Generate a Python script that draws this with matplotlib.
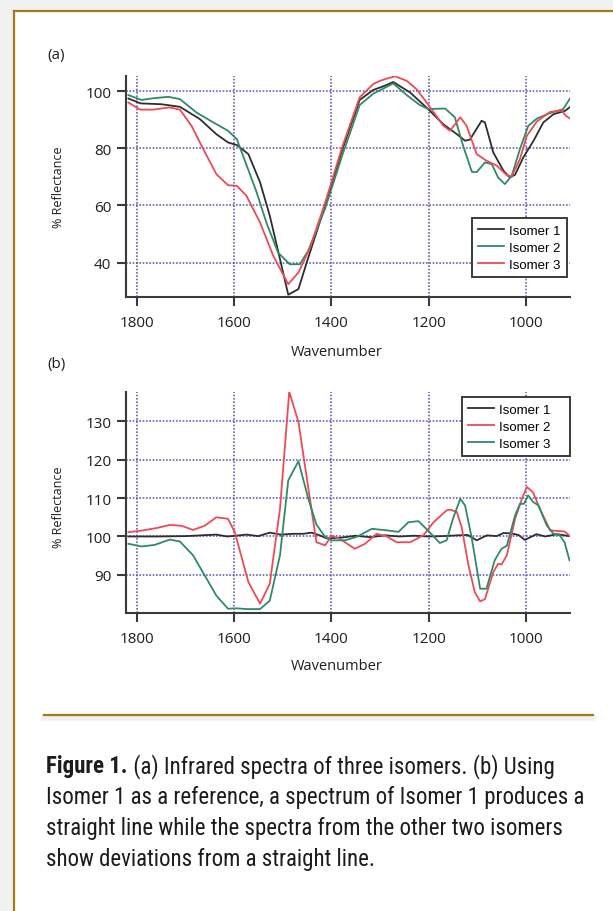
import matplotlib
matplotlib.use("Agg")
import matplotlib.pyplot as plt
import matplotlib.font_manager as fm
from matplotlib.patches import Rectangle
from matplotlib.lines import Line2D

# ---------------- data ----------------
xticks = [1800, 1600, 1400, 1200, 1000]
yticks_a = [40, 60, 80, 100]
yticks_b = [90, 100, 110, 120, 130]
labels_a = ["Isomer 1", "Isomer 2", "Isomer 3"]
labels_b = ["Isomer 1", "Isomer 2", "Isomer 3"]

# panel (a)
wn_a1 = [1818, 1793, 1750, 1712, 1671, 1637, 1613, 1595, 1571, 1547, 1527, 1506, 1489, 1468, 1451,
         1413, 1377, 1342, 1314, 1290, 1273, 1238, 1201, 1170, 1142, 1125, 1115, 1091, 1084, 1067,
         1046, 1033, 1022, 1005, 984, 964, 943, 919, 909]
ref_a1 = [97.5, 95.8, 95.5, 94.6, 90.3, 85.0, 82.1, 81.2, 78.0, 68.1, 56.4, 41.2, 28.7, 30.7, 40.0,
          60.0, 80.0, 97.0, 100.5, 102.0, 103.3, 99.6, 93.8, 88.5, 85.0, 82.7, 83.1, 89.7, 89.1, 78.6,
          72.2, 69.8, 70.8, 76.9, 82.7, 89.1, 92.0, 93.2, 94.5]

wn_a2 = [1818, 1791, 1767, 1736, 1712, 1678, 1643, 1613, 1595, 1582, 1554, 1534, 1510, 1486, 1465,
         1448, 1413, 1377, 1342, 1314, 1293, 1273, 1245, 1218, 1201, 1166, 1146, 1129, 1111, 1101,
         1084, 1070, 1057, 1043, 1029, 1012, 995, 977, 950, 923, 909]
ref_a2 = [98.7, 97.0, 97.6, 98.1, 97.3, 92.6, 89.1, 86.2, 83.3, 77.4, 64.6, 54.0, 43.5, 39.4, 39.4,
          44.1, 59.0, 78.0, 95.2, 99.2, 101.0, 102.8, 98.7, 95.2, 93.8, 94.0, 90.9, 80.9, 71.8, 71.7,
          75.1, 74.5, 69.8, 67.5, 70.4, 79.8, 87.9, 90.5, 92.4, 93.8, 97.5]

wn_a3 = [1818, 1794, 1767, 1733, 1712, 1688, 1664, 1637, 1613, 1595, 1575, 1547, 1520, 1489, 1468,
         1444, 1413, 1377, 1342, 1314, 1300, 1290, 1269, 1245, 1225, 1204, 1170, 1156, 1135, 1122,
         1101, 1081, 1060, 1039, 1029, 1012, 998, 977, 950, 926, 918, 909]
ref_a3 = [96.1, 93.6, 93.6, 94.4, 93.6, 87.9, 79.8, 71.0, 67.1, 66.9, 63.4, 54.0, 42.4, 32.4, 36.5,
          45.3, 61.0, 81.0, 97.9, 102.6, 103.7, 104.3, 105.3, 103.7, 100.8, 96.1, 88.0, 86.2, 90.9, 88.0,
          78.0, 75.7, 74.0, 70.6, 70.2, 76.3, 84.4, 89.5, 92.8, 93.3, 91.5, 90.5]

# panel (b)
wn_b1 = [1818, 1760, 1700, 1637, 1615, 1596, 1575, 1551, 1527, 1505, 1479, 1458, 1441, 1424, 1410,
         1380, 1350, 1320, 1290, 1260, 1230, 1200, 1170, 1140, 1120, 1101, 1080, 1060, 1046, 1030,
         1015, 1002, 978, 960, 936, 910]
ref_b1 = [100.0, 100.0, 100.1, 100.5, 100.0, 100.2, 100.5, 100.1, 101.0, 100.5, 100.7, 100.7, 101.0, 100.3, 99.5,
          99.7, 100.2, 99.8, 100.3, 100.0, 100.2, 100.0, 100.1, 100.3, 100.4, 99.0, 100.3, 100.1, 100.9, 100.8,
          100.4, 99.1, 100.6, 100.0, 100.6, 100.1]

wn_b2 = [1818, 1788, 1760, 1733, 1709, 1685, 1661, 1637, 1613, 1599, 1571, 1547, 1527, 1506, 1487,
         1468, 1449, 1431, 1413, 1400, 1383, 1352, 1331, 1307, 1286, 1266, 1238, 1211, 1190, 1163,
         1156, 1142, 1132, 1118, 1105, 1094, 1084, 1067, 1057, 1050, 1039, 1022, 1008, 998, 985,
         971, 950, 930, 920, 910]
ref_b2 = [101.1, 101.6, 102.2, 103.0, 102.8, 101.7, 102.8, 105.0, 104.6, 101.1, 88.1, 82.5, 87.7, 107.2, 137.7,
          129.8, 113.7, 98.5, 97.7, 100.2, 99.4, 96.8, 98.1, 100.7, 100.0, 98.5, 98.5, 100.3, 103.7, 106.8,
          107.0, 106.4, 102.4, 92.5, 85.5, 83.1, 83.7, 90.7, 92.9, 92.7, 95.1, 104.6, 109.8, 112.9, 111.5,
          107.2, 101.6, 101.4, 101.3, 100.2]

wn_b3 = [1818, 1791, 1764, 1733, 1712, 1685, 1657, 1637, 1613, 1595, 1575, 1547, 1527, 1506, 1489,
         1468, 1448, 1431, 1413, 1400, 1372, 1348, 1317, 1286, 1262, 1242, 1221, 1197, 1177, 1163,
         1150, 1135, 1125, 1111, 1094, 1081, 1064, 1050, 1039, 1022, 1012, 1004, 995, 985, 974,
         957, 943, 930, 920, 910]
ref_b3 = [98.1, 97.4, 97.8, 99.2, 98.7, 95.1, 89.0, 84.6, 81.2, 81.3, 81.1, 81.1, 83.3, 95.1, 114.6,
          119.6, 110.0, 103.1, 99.9, 99.0, 99.0, 99.9, 102.0, 101.6, 101.2, 103.7, 104.0, 101.0, 98.3, 99.0,
          104.6, 109.8, 108.1, 99.4, 86.4, 86.4, 93.8, 96.8, 97.6, 105.5, 108.5, 108.5, 110.7, 109.0, 108.1,
          102.9, 100.7, 100.3, 98.4, 93.8]

caption_bold = "Figure 1."
caption_lines = [
    " (a) Infrared spectra of three isomers. (b) Using",
    "Isomer 1 as a reference, a spectrum of Isomer 1 produces a",
    "straight line while the spectra from the other two isomers",
    "show deviations from a straight line.",
]

# ---------------- style ----------------
BLACK = "#2e2e2e"
GREEN = "#2f8a66"
RED = "#ec4b55"
GRID = "#4848a6"
GOLD = "#a57a1c"
SPINE = "#3a3a3a"

entries = fm.fontManager.ttflist
names = {f.name for f in entries}
AX_FONT = "Open Sans" if "Open Sans" in names else "DejaVu Sans"
LEG_FONT = "Liberation Sans" if "Liberation Sans" in names else "DejaVu Sans"

# caption font: prefer a condensed face
CAP_FONT, CAP_STRETCH = None, "normal"
for cand in ("Liberation Sans Narrow", "Roboto Condensed", "Open Sans Condensed",
             "Noto Sans Condensed", "DejaVu Sans Condensed", "Arial Narrow"):
    if cand in names:
        CAP_FONT = cand
        break
if CAP_FONT is None:
    for f in entries:
        st = f.stretch if isinstance(f.stretch, str) else str(f.stretch)
        if f.name in ("DejaVu Sans", "Noto Sans", "Open Sans", "Roboto") and \
                ("condensed" in st or st in ("500", "400", "300")) and st != "normal":
            CAP_FONT, CAP_STRETCH = f.name, "condensed"
            break
if CAP_FONT is None:
    CAP_FONT = "Roboto" if "Roboto" in names else "DejaVu Sans"

W, H = 613, 912
fig = plt.figure(figsize=(W / 100, H / 100), dpi=100)
fig.patch.set_facecolor("#f1f1f1")


def fx(px):
    return px / W


def fy(py):
    return 1 - py / H


# white panel with gold frame (top & left)
fig.patches.append(Rectangle((fx(14), 0), 1 - fx(14), fy(12), transform=fig.transFigure,
                             facecolor="white", edgecolor="none", zorder=-10))
fig.lines.append(Line2D([fx(14), 1], [fy(12), fy(12)], transform=fig.transFigure, color=GOLD, lw=1.6,
                        zorder=-5))
fig.lines.append(Line2D([fx(14), fx(14)], [0, fy(12)], transform=fig.transFigure, color=GOLD, lw=1.6,
                        zorder=-5))

# separator line with soft shadow
fig.lines.append(Line2D([fx(44), fx(593)], [fy(718.5), fy(718.5)], transform=fig.transFigure,
                        color="#000000", alpha=0.06, lw=4, zorder=-5))
fig.lines.append(Line2D([fx(44), fx(593)], [fy(715.5), fy(715.5)], transform=fig.transFigure,
                        color=GOLD, lw=1.6, zorder=-4))


def style_axes(ax, ylim, yticks):
    ax.set_facecolor("none")
    ax.set_xlim(1823, 909)
    ax.set_ylim(*ylim)
    ax.set_xticks(xticks)
    ax.set_yticks(yticks)
    for s in ("top", "right"):
        ax.spines[s].set_visible(False)
    for s in ("left", "bottom"):
        ax.spines[s].set_color(SPINE)
        ax.spines[s].set_linewidth(1.5)
    ax.tick_params(direction="out", length=6.5, width=1.5, color=SPINE, labelsize=11,
                   labelcolor="#1e1e1e", pad=4)
    ax.tick_params(axis="x", pad=6.5)
    for lab in ax.get_xticklabels() + ax.get_yticklabels():
        lab.set_fontfamily(AX_FONT)
    ax.grid(True, color=GRID, linestyle=(0, (1.0, 1.0)), linewidth=1.2, alpha=0.85)
    ax.set_axisbelow(True)
    ax.set_xlabel("Wavenumber", fontsize=10.5, fontfamily=AX_FONT, color="#1e1e1e")


# panel (a)
ax1 = fig.add_axes([fx(126), fy(298.3), fx(570) - fx(126), (298.3 - 77) / H])
style_axes(ax1, (27.8, 105.4), yticks_a)
ax1.plot(wn_a1, ref_a1, color=BLACK, lw=1.3, label=labels_a[0])
ax1.plot(wn_a2, ref_a2, color=GREEN, lw=1.3, label=labels_a[1])
ax1.plot(wn_a3, ref_a3, color=RED, lw=1.3, label=labels_a[2])
ax1.xaxis.set_label_coords(0.475, -0.21)
ax1.xaxis.label.set_va("top")

# panel (b)
ax2 = fig.add_axes([fx(126), fy(614.3), fx(570) - fx(126), (614.3 - 392.7) / H])
style_axes(ax2, (80.0, 137.7), yticks_b)
ax2.plot(wn_b1, ref_b1, color=BLACK, lw=1.3, label=labels_b[0])
ax2.plot(wn_b2, ref_b2, color=RED, lw=1.3, label=labels_b[1])
ax2.plot(wn_b3, ref_b3, color=GREEN, lw=1.3, label=labels_b[2])
ax2.xaxis.set_label_coords(0.475, -0.2)
ax2.xaxis.label.set_va("top")

leg_kw = dict(borderaxespad=0, fancybox=False, framealpha=1, edgecolor="#3a3a3a",
              prop={"family": LEG_FONT, "size": 9.5}, handlelength=1.95, handletextpad=0.4,
              labelspacing=0.36, borderpad=0.48)
leg1 = ax1.legend(loc="lower right", bbox_to_anchor=(0.9926, 0.0904), **leg_kw)
leg2 = ax2.legend(loc="upper left", bbox_to_anchor=(0.756, 0.975 - 0.26, 0.244, 0.26),
                  mode="expand", **leg_kw)
for leg in (leg1, leg2):
    leg.get_frame().set_linewidth(1.4)

# y labels
for yc in ((77 + 298.3) / 2, 507.7):
    fig.text(fx(58), fy(yc), "% Reflectance", rotation=90, ha="center", va="center",
             fontsize=9, fontfamily=AX_FONT, color="#1e1e1e")

# panel tags
fig.text(fx(47), fy(55.5), "(a)", ha="left", va="center", fontsize=11, fontfamily=AX_FONT, color="#1e1e1e")
fig.text(fx(47), fy(364.5), "(b)", ha="left", va="center", fontsize=11, fontfamily=AX_FONT, color="#1e1e1e")

# caption: fit font size so the longest line spans the reference width
renderer = fig.canvas.get_renderer()
probe = fig.text(0, 0, caption_lines[1], fontsize=10, fontfamily=CAP_FONT, fontstretch=CAP_STRETCH)
pw = probe.get_window_extent(renderer=renderer).width
probe.remove()
cap_size = min(16.5, 10 * 534.0 / pw)
cap_kw = dict(ha="left", va="baseline", fontsize=cap_size, fontfamily=CAP_FONT,
              fontstretch=CAP_STRETCH, color="#1c1c1c")

baselines = [773.5, 804.5, 835.5, 866.5]
tb = fig.text(fx(46.5), fy(baselines[0]), caption_bold, fontweight="bold", **cap_kw)
bb = tb.get_window_extent(renderer=renderer)
fig.text(bb.x1 / W, fy(baselines[0]), caption_lines[0], **cap_kw)
for line, b in zip(caption_lines[1:], baselines[1:]):
    fig.text(fx(46.5), fy(b), line, **cap_kw)

fig.savefig("out.png", dpi=100, facecolor=fig.get_facecolor())
